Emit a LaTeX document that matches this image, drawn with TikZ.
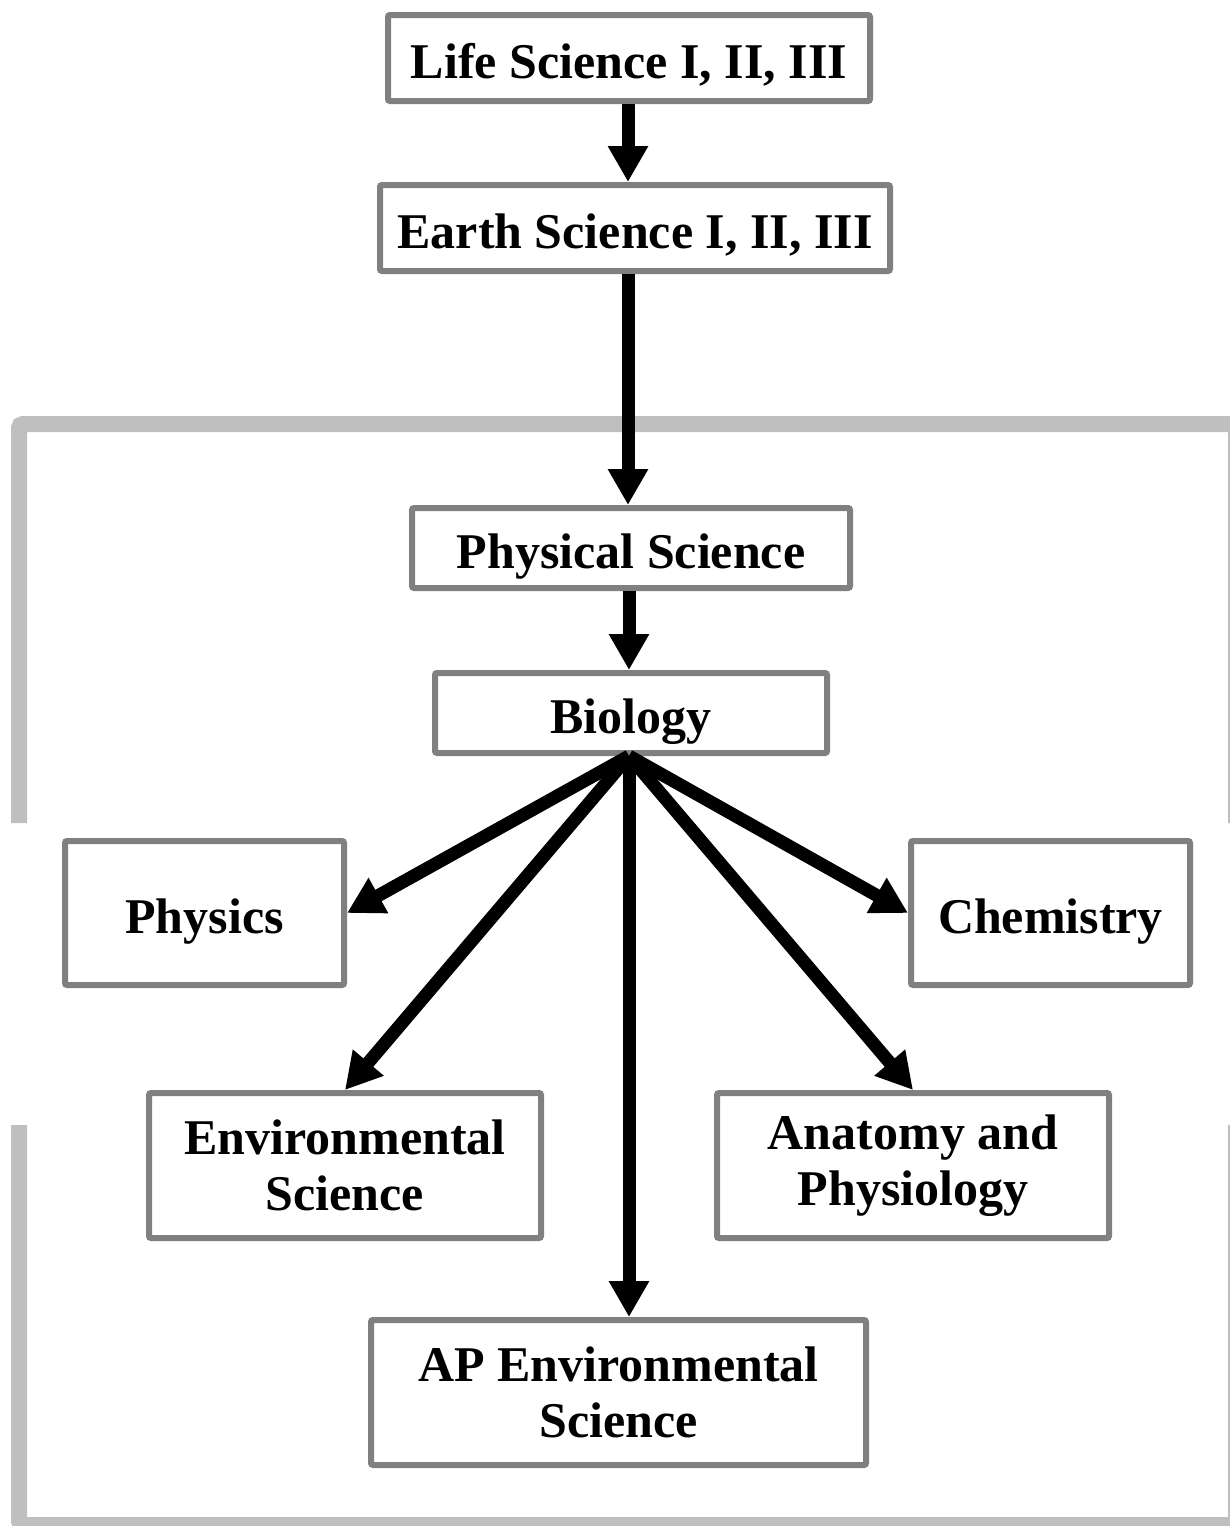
\documentclass[tikz,border=0pt]{standalone}
\usepackage{fontspec}
\setmainfont{Liberation Serif}
\usetikzlibrary{arrows.meta}

\tikzset{
  course/.style={draw=gray, line width=3pt, rounded corners=1pt, inner sep=0pt,
    align=center, font=\bfseries\fontsize{25}{28}\selectfont},
  oneline/.style={text height=20pt, text depth=0pt},
  link/.style={line width=6.5pt, -{Triangle[length=18pt,width=19pt]}},
  frame/.style={draw=gray!50, line width=8pt, rounded corners=2pt}
}

\begin{document}
\begin{tikzpicture}[x=0.5pt,y=-0.5pt]
\useasboundingbox (0,0) rectangle (1230,1526);
\clip (0,0) rectangle (1230,1526);
% grey frame, open at both sides
\draw[frame] (19,823) -- (19,424) -- (1236,424) -- (1236,823);
\draw[frame] (19,1125) -- (19,1525) -- (1236,1525) -- (1236,1125);

\node[course, oneline, minimum width=241pt, minimum height=43pt] (life) at (629,58) {Life Science I, II, III};
\node[course, oneline, minimum width=255pt, minimum height=43pt] (earth) at (635,228) {Earth Science I, II, III};
\node[course, oneline, minimum width=219pt, minimum height=40pt] (phys) at (631,548) {Physical Science};
\node[course, oneline, minimum width=196pt, minimum height=40pt] (bio) at (631,713) {Biology};
\node[course, oneline, minimum width=139.5pt, minimum height=72pt] (physics) at (204.5,913) {Physics};
\node[course, oneline, minimum width=139.5pt, minimum height=72pt] (chem) at (1050.5,913) {Chemistry};
\node[course, minimum width=196pt, minimum height=72.5pt] (env) at (345,1165.5) {Environmental\\Science};
\node[course, minimum width=196pt, minimum height=72.5pt] (anat) at (913,1165.5) {Anatomy and\\Physiology};
\node[course, minimum width=247.5pt, minimum height=72.5pt] (ap) at (618.5,1392.5) {AP Environmental\\Science};

\coordinate (hub) at ([xshift=-1pt]bio.south);
\draw[link] ([xshift=-0.5pt]life.south) -- ([xshift=-0.5pt]life.south |- earth.north);
\draw[link] ([xshift=-3.5pt]earth.south) -- ([xshift=-3.5pt]earth.south |- phys.north);
\draw[link] ([xshift=-1pt]phys.south) -- ([xshift=-1pt]phys.south |- bio.north);
\draw[link] (hub) -- (physics.east);
\draw[link] (hub) -- (env.north);
\draw[link] (hub) -- (hub |- ap.north);
\draw[link] (hub) -- (anat.north);
\draw[link] (hub) -- (chem.west);
\end{tikzpicture}
\end{document}
